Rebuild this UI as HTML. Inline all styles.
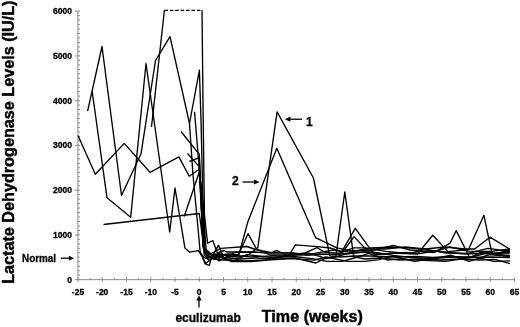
<!DOCTYPE html>
<html><head><meta charset="utf-8"><title>LDH levels</title>
<style>
html,body{margin:0;padding:0;background:#fff;}
body{width:520px;height:327px;overflow:hidden;}
svg{display:block;font-family:"Liberation Sans",sans-serif;font-weight:bold;fill:#000;}
text{stroke:#000;stroke-width:0.3;}
.big{stroke-width:0.45;}
.ax line{stroke:#8a8a8a;stroke-width:1;}
.dl polyline{fill:none;stroke:#000;stroke-width:1.35;stroke-linejoin:round;stroke-linecap:butt;}
.tk text{font-size:8.5px;}
.ar line{stroke:#000;stroke-width:1.3;}
</style></head><body>
<svg width="520" height="327" viewBox="0 0 520 327">
<rect width="520" height="327" fill="#fff"/>
<g class="ax">
<line x1="77.9" y1="11.1" x2="77.9" y2="279.65"/>
<line x1="78" y1="279.65" x2="514.5" y2="279.65"/>
<line x1="75" y1="279.65" x2="80" y2="279.65"/>
<line x1="77.9" y1="275.17" x2="80" y2="275.17"/>
<line x1="77.9" y1="270.70" x2="80" y2="270.70"/>
<line x1="77.9" y1="266.22" x2="80" y2="266.22"/>
<line x1="77.9" y1="261.75" x2="80" y2="261.75"/>
<line x1="77.9" y1="257.27" x2="80" y2="257.27"/>
<line x1="77.9" y1="252.80" x2="80" y2="252.80"/>
<line x1="77.9" y1="248.32" x2="80" y2="248.32"/>
<line x1="77.9" y1="243.85" x2="80" y2="243.85"/>
<line x1="77.9" y1="239.37" x2="80" y2="239.37"/>
<line x1="75" y1="234.90" x2="80" y2="234.90"/>
<line x1="77.9" y1="230.42" x2="80" y2="230.42"/>
<line x1="77.9" y1="225.95" x2="80" y2="225.95"/>
<line x1="77.9" y1="221.47" x2="80" y2="221.47"/>
<line x1="77.9" y1="217.00" x2="80" y2="217.00"/>
<line x1="77.9" y1="212.52" x2="80" y2="212.52"/>
<line x1="77.9" y1="208.05" x2="80" y2="208.05"/>
<line x1="77.9" y1="203.57" x2="80" y2="203.57"/>
<line x1="77.9" y1="199.10" x2="80" y2="199.10"/>
<line x1="77.9" y1="194.62" x2="80" y2="194.62"/>
<line x1="75" y1="190.15" x2="80" y2="190.15"/>
<line x1="77.9" y1="185.67" x2="80" y2="185.67"/>
<line x1="77.9" y1="181.20" x2="80" y2="181.20"/>
<line x1="77.9" y1="176.72" x2="80" y2="176.72"/>
<line x1="77.9" y1="172.25" x2="80" y2="172.25"/>
<line x1="77.9" y1="167.77" x2="80" y2="167.77"/>
<line x1="77.9" y1="163.30" x2="80" y2="163.30"/>
<line x1="77.9" y1="158.82" x2="80" y2="158.82"/>
<line x1="77.9" y1="154.35" x2="80" y2="154.35"/>
<line x1="77.9" y1="149.87" x2="80" y2="149.87"/>
<line x1="75" y1="145.40" x2="80" y2="145.40"/>
<line x1="77.9" y1="140.92" x2="80" y2="140.92"/>
<line x1="77.9" y1="136.45" x2="80" y2="136.45"/>
<line x1="77.9" y1="131.97" x2="80" y2="131.97"/>
<line x1="77.9" y1="127.50" x2="80" y2="127.50"/>
<line x1="77.9" y1="123.02" x2="80" y2="123.02"/>
<line x1="77.9" y1="118.55" x2="80" y2="118.55"/>
<line x1="77.9" y1="114.07" x2="80" y2="114.07"/>
<line x1="77.9" y1="109.60" x2="80" y2="109.60"/>
<line x1="77.9" y1="105.12" x2="80" y2="105.12"/>
<line x1="75" y1="100.65" x2="80" y2="100.65"/>
<line x1="77.9" y1="96.17" x2="80" y2="96.17"/>
<line x1="77.9" y1="91.70" x2="80" y2="91.70"/>
<line x1="77.9" y1="87.22" x2="80" y2="87.22"/>
<line x1="77.9" y1="82.75" x2="80" y2="82.75"/>
<line x1="77.9" y1="78.27" x2="80" y2="78.27"/>
<line x1="77.9" y1="73.80" x2="80" y2="73.80"/>
<line x1="77.9" y1="69.32" x2="80" y2="69.32"/>
<line x1="77.9" y1="64.85" x2="80" y2="64.85"/>
<line x1="77.9" y1="60.38" x2="80" y2="60.38"/>
<line x1="75" y1="55.90" x2="80" y2="55.90"/>
<line x1="77.9" y1="51.42" x2="80" y2="51.42"/>
<line x1="77.9" y1="46.95" x2="80" y2="46.95"/>
<line x1="77.9" y1="42.47" x2="80" y2="42.47"/>
<line x1="77.9" y1="38.00" x2="80" y2="38.00"/>
<line x1="77.9" y1="33.52" x2="80" y2="33.52"/>
<line x1="77.9" y1="29.05" x2="80" y2="29.05"/>
<line x1="77.9" y1="24.57" x2="80" y2="24.57"/>
<line x1="77.9" y1="20.10" x2="80" y2="20.10"/>
<line x1="77.9" y1="15.62" x2="80" y2="15.62"/>
<line x1="75" y1="11.15" x2="80" y2="11.15"/>
<line x1="78.00" y1="277.4" x2="78.00" y2="281.8"/>
<line x1="90.13" y1="277.9" x2="90.13" y2="279.65"/>
<line x1="102.25" y1="277.4" x2="102.25" y2="281.8"/>
<line x1="114.38" y1="277.9" x2="114.38" y2="279.65"/>
<line x1="126.50" y1="277.4" x2="126.50" y2="281.8"/>
<line x1="138.62" y1="277.9" x2="138.62" y2="279.65"/>
<line x1="150.75" y1="277.4" x2="150.75" y2="281.8"/>
<line x1="162.88" y1="277.9" x2="162.88" y2="279.65"/>
<line x1="175.00" y1="277.4" x2="175.00" y2="281.8"/>
<line x1="187.12" y1="277.9" x2="187.12" y2="279.65"/>
<line x1="199.25" y1="277.4" x2="199.25" y2="281.8"/>
<line x1="211.38" y1="277.9" x2="211.38" y2="279.65"/>
<line x1="223.50" y1="277.4" x2="223.50" y2="281.8"/>
<line x1="235.62" y1="277.9" x2="235.62" y2="279.65"/>
<line x1="247.75" y1="277.4" x2="247.75" y2="281.8"/>
<line x1="259.88" y1="277.9" x2="259.88" y2="279.65"/>
<line x1="272.00" y1="277.4" x2="272.00" y2="281.8"/>
<line x1="284.12" y1="277.9" x2="284.12" y2="279.65"/>
<line x1="296.25" y1="277.4" x2="296.25" y2="281.8"/>
<line x1="308.38" y1="277.9" x2="308.38" y2="279.65"/>
<line x1="320.50" y1="277.4" x2="320.50" y2="281.8"/>
<line x1="332.62" y1="277.9" x2="332.62" y2="279.65"/>
<line x1="344.75" y1="277.4" x2="344.75" y2="281.8"/>
<line x1="356.88" y1="277.9" x2="356.88" y2="279.65"/>
<line x1="369.00" y1="277.4" x2="369.00" y2="281.8"/>
<line x1="381.12" y1="277.9" x2="381.12" y2="279.65"/>
<line x1="393.25" y1="277.4" x2="393.25" y2="281.8"/>
<line x1="405.38" y1="277.9" x2="405.38" y2="279.65"/>
<line x1="417.50" y1="277.4" x2="417.50" y2="281.8"/>
<line x1="429.62" y1="277.9" x2="429.62" y2="279.65"/>
<line x1="441.75" y1="277.4" x2="441.75" y2="281.8"/>
<line x1="453.88" y1="277.9" x2="453.88" y2="279.65"/>
<line x1="466.00" y1="277.4" x2="466.00" y2="281.8"/>
<line x1="478.12" y1="277.9" x2="478.12" y2="279.65"/>
<line x1="490.25" y1="277.4" x2="490.25" y2="281.8"/>
<line x1="502.38" y1="277.9" x2="502.38" y2="279.65"/>
<line x1="514.50" y1="277.4" x2="514.50" y2="281.8"/>
</g>
<g class="tk">
<text x="72" y="282.5" text-anchor="end">0</text>
<text x="72" y="237.8" text-anchor="end">1000</text>
<text x="72" y="193.0" text-anchor="end">2000</text>
<text x="72" y="148.3" text-anchor="end">3000</text>
<text x="72" y="103.5" text-anchor="end">4000</text>
<text x="72" y="58.8" text-anchor="end">5000</text>
<text x="72" y="14.0" text-anchor="end">6000</text>
<text x="78.0" y="295.3" text-anchor="middle">-25</text>
<text x="102.2" y="295.3" text-anchor="middle">-20</text>
<text x="126.5" y="295.3" text-anchor="middle">-15</text>
<text x="150.8" y="295.3" text-anchor="middle">-10</text>
<text x="175.0" y="295.3" text-anchor="middle">-5</text>
<text x="199.2" y="295.3" text-anchor="middle">0</text>
<text x="223.5" y="295.3" text-anchor="middle">5</text>
<text x="247.8" y="295.3" text-anchor="middle">10</text>
<text x="272.0" y="295.3" text-anchor="middle">15</text>
<text x="296.2" y="295.3" text-anchor="middle">20</text>
<text x="320.5" y="295.3" text-anchor="middle">25</text>
<text x="344.8" y="295.3" text-anchor="middle">30</text>
<text x="369.0" y="295.3" text-anchor="middle">35</text>
<text x="393.2" y="295.3" text-anchor="middle">40</text>
<text x="417.5" y="295.3" text-anchor="middle">45</text>
<text x="441.8" y="295.3" text-anchor="middle">50</text>
<text x="466.0" y="295.3" text-anchor="middle">55</text>
<text x="490.2" y="295.3" text-anchor="middle">60</text>
<text x="514.5" y="295.3" text-anchor="middle">65</text>
</g>
<g class="dl">
<polyline points="78.0,135.4 95.3,174.2 124.2,143.4 150.0,172.3 178.9,156.9 189.2,176.2 199.2,169.2 207.6,243.2 212.9,240.7 217.5,253.2 228.0,256.0 238.0,257.0 248.0,255.0 257.8,247.7 277.1,111.9 313.4,178.0 329.8,255.8 340.0,257.0 355.0,256.0 370.0,256.0 393.0,257.0 417.0,256.5 433.0,257.5 450.0,256.5 469.0,257.5 490.0,257.0 510.0,257.5"/>
<polyline points="87.6,111.2 102.0,46.5 121.5,195.5 141.0,153.8 155.5,60.5 170.0,36.6 189.5,123.5 193.0,175.0 197.7,225.0 200.2,252.2 203.9,257.7 206.3,258.3 212.0,256.0 225.0,258.0 238.9,254.7 247.8,222.0 276.8,148.3 315.5,237.6 336.8,247.9 352.0,251.0 375.0,250.0 393.2,245.4 410.0,250.0 434.0,252.7 450.0,243.2 456.2,230.6 469.5,257.4 483.0,252.0 495.0,254.0 510.0,250.0"/>
<polyline points="92.2,91.5 107.0,197.8 130.7,217.3 146.0,63.5 169.7,232.0 175.0,188.0 184.9,247.9 189.8,252.2 198.4,250.6 202.0,256.5 206.3,264.4 209.4,265.3 211.2,258.3 218.5,245.2 223.7,257.5 240.0,259.0 256.0,258.0 277.0,259.0 295.0,258.0 315.7,263.0 324.3,258.8 335.8,256.8 344.8,192.0 353.7,256.8 365.0,259.0 380.0,258.0 400.0,260.0 420.0,259.0 440.0,260.0 460.0,259.0 480.0,260.0 495.0,259.4 510.0,263.6"/>
<polyline points="151.5,127.0 164.4,10.3"/>
<polyline points="202.0,10.3 203.2,120.0 204.9,250.0 210.0,254.0 214.0,252.0 220.6,248.3 247.0,246.5 255.7,249.5 271.4,252.6 277.0,250.5 285.0,254.5 300.0,255.0 320.0,254.0 339.8,254.8 355.3,228.3 374.5,254.8 393.0,253.0 417.3,254.2 432.7,235.2 448.0,251.6 468.5,249.5 483.9,215.3 492.1,254.2 510.0,252.0"/>
<polyline points="103.5,224.5 199.3,213.5 202.2,235.0 204.2,252.0 208.0,258.0 215.0,256.0 228.0,254.0 238.7,254.6 248.0,233.7 256.8,249.5 270.0,255.0 289.2,255.0 295.4,244.9 317.5,246.7 330.0,248.0 342.7,252.0 354.1,236.7 365.6,248.9 385.0,249.0 405.0,247.0 425.0,249.0 445.0,247.0 465.0,249.0 474.7,249.0 490.0,237.2 509.5,249.0 510.0,249.0"/>
<polyline points="181.0,131.5 199.3,154.4 203.2,246.0 207.0,255.0 213.0,259.0 225.0,260.0 245.0,261.0 265.0,260.0 288.6,255.0 305.2,252.9 317.0,247.7 324.3,252.0 345.0,254.0 365.0,252.0 385.0,254.0 405.0,252.5 419.5,253.5 435.1,251.1 445.0,252.0 465.0,254.0 485.0,253.0 510.0,253.0"/>
<polyline points="194.5,111.7 197.3,145.0 199.6,172.0 206.2,250.0 209.0,256.0 214.0,259.5 219.0,256.0 224.0,259.0 234.6,260.7 246.9,254.7 272.1,257.6 294.4,256.5 313.6,258.9 326.8,261.3 342.2,261.3 354.1,258.0 368.9,253.4 387.5,260.2 401.5,258.7 414.7,261.3 434.8,258.7 450.7,255.1 469.2,261.3 489.5,254.6 510.0,256.5"/>
<polyline points="189.5,123.5 199.4,70.2 201.0,120.0 204.2,255.0 209.0,260.5 214.0,257.0 219.0,261.0 224.0,258.5 231.2,261.5 250.5,261.5 268.0,260.2 290.1,258.6 314.2,260.2 326.0,257.0 347.6,261.3 365.3,261.3 378.9,259.7 392.8,256.1 407.5,259.5 429.4,260.7 445.5,261.3 462.6,258.9 474.4,256.8 493.8,261.3 510.0,260.8"/>
<polyline points="184.2,216.5 199.3,172.0 204.0,251.0 209.0,254.0 214.0,256.0 219.0,258.5 224.0,255.0 229.3,254.9 250.7,256.8 274.2,255.9 286.3,256.3 307.7,252.8 325.1,258.2 337.4,256.4 351.4,252.5 372.1,252.0 392.9,255.3 411.6,257.5 432.6,258.6 452.2,257.0 470.5,257.0 485.7,253.6 510.0,255.5"/>
<polyline points="187.5,153.5 199.2,166.6 203.4,249.0 209.0,258.0 214.0,254.0 219.0,254.5 224.0,258.0 234.8,252.3 251.2,252.0 265.5,252.8 288.6,252.8 308.4,255.2 325.1,254.4 336.9,254.2 353.5,247.9 365.2,247.9 385.8,251.4 410.0,253.7 425.0,249.1 446.2,253.0 467.8,253.4 488.1,248.3 510.0,251.5"/>
<polyline points="189.4,161.5 199.3,157.6 203.0,247.0 209.0,252.0 214.0,258.0 219.0,252.5 224.0,250.5 226.7,252.0 251.1,252.0 270.7,252.8 293.2,252.8 306.9,254.9 332.2,250.1 348.9,252.1 370.8,248.0 392.6,247.0 411.4,248.1 434.9,251.3 450.0,247.0 468.7,251.1 490.9,251.3 510.0,249.0"/>
<polyline points="164.4,10.3 202.0,10.3" stroke-dasharray="3.6 1.8"/>
<polyline points="202.7,258.3 205.1,263.8 210.0,260.2"/>
</g>
<text transform="translate(13.8,283.8) rotate(-90)" class="big" font-size="16.8" textLength="283.3" lengthAdjust="spacingAndGlyphs">Lactate Dehydrogenase Levels (IU/L)</text>
<text x="261.8" y="322.3" class="big" font-size="16" textLength="101" lengthAdjust="spacingAndGlyphs">Time (weeks)</text>
<text x="175.4" y="322.3" font-size="12">eculizumab</text>
<text x="22.1" y="261.7" font-size="10.2" textLength="34" lengthAdjust="spacingAndGlyphs">Normal</text>
<text x="306" y="125.8" font-size="12">1</text>
<text x="232" y="185.3" font-size="12">2</text>
<g class="ar">
<line x1="60.8" y1="258.2" x2="70" y2="258.2"/><polygon points="74.2,258.2 68.9,255.8 68.9,260.6"/>
<line x1="289.5" y1="119.2" x2="302" y2="119.2"/><polygon points="284.8,119.2 290.4,116.6 290.4,121.8"/>
<line x1="242.5" y1="182" x2="255" y2="182"/><polygon points="259.6,182 254,179.4 254,184.6"/>
<line x1="199" y1="299" x2="199" y2="307.5"/><polygon points="199,295.2 196.3,300.4 201.7,300.4"/>
</g>
</svg>
</body></html>
